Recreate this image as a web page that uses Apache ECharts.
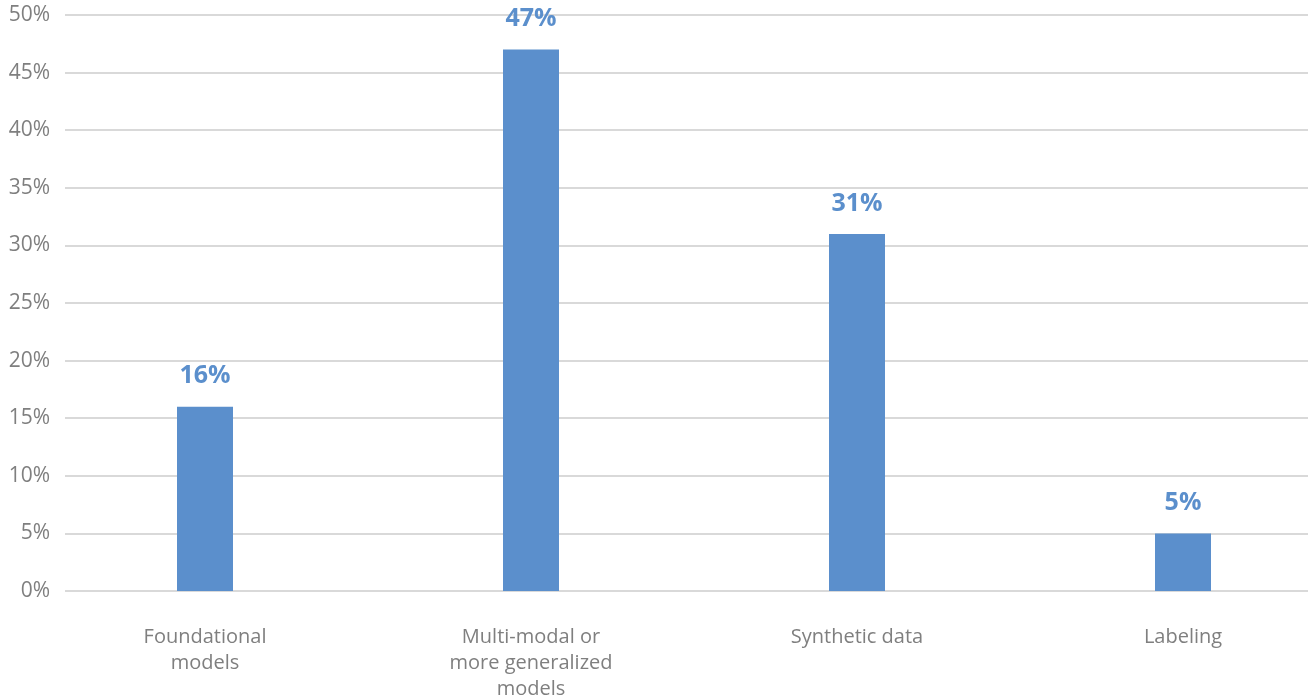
<!DOCTYPE html>
<html>
<head>
<meta charset="utf-8">
<script src="https://cdn.jsdelivr.net/npm/echarts@6/dist/echarts.min.js"></script>
<style>
  html, body { margin: 0; padding: 0; background: #ffffff; }
  #chart { width: 1308px; height: 698px; }
</style>
</head>
<body>
<div id="chart"></div>
<script>
// Share of respondents by area of focus
const categories = [
  'Foundational\nmodels',
  'Multi-modal or\nmore generalized\nmodels',
  'Synthetic data',
  'Labeling'
];
const shares = [16, 47, 31, 5];
const yTicks = { min: 0, max: 50, interval: 5 };

const font = '"Open Sans", "Noto Sans", sans-serif';
const grey = '#7f7f7f';
const blue = '#5b8fcc';

const chart = echarts.init(document.getElementById('chart'), null, { renderer: 'canvas' });

chart.setOption({
  animation: false,
  backgroundColor: '#ffffff',
  grid: [
    // value grid: tick labels and horizontal gridlines
    { left: 65, right: 0, top: 15, bottom: 107, containLabel: false, outerBoundsMode: 'none' },
    // category grid: bars sit on the category ticks
    { left: 205, right: 125, top: 15, bottom: 107, containLabel: false, outerBoundsMode: 'none' }
  ],
  xAxis: [
    { type: 'category', gridIndex: 0, data: categories, show: false },
    {
      type: 'category', gridIndex: 1, data: categories, boundaryGap: false,
      axisLine: { show: false }, axisTick: { show: false },
      splitLine: { show: false },
      axisLabel: {
        color: grey, fontFamily: font, fontSize: 20, lineHeight: 26,
        margin: 33, interval: 0, align: 'center'
      }
    }
  ],
  yAxis: [
    {
      type: 'value', gridIndex: 0,
      min: yTicks.min, max: yTicks.max, interval: yTicks.interval,
      axisLine: { show: false }, axisTick: { show: false },
      axisLabel: {
        color: grey, fontFamily: font, fontSize: 21, margin: 15,
        formatter: v => v + '%'
      },
      splitLine: { lineStyle: { color: '#d9d9d9', width: 2 } }
    },
    {
      type: 'value', gridIndex: 1,
      min: yTicks.min, max: yTicks.max, interval: yTicks.interval,
      show: false, splitLine: { show: false }
    }
  ],
  series: [
    {
      type: 'bar', xAxisIndex: 1, yAxisIndex: 1,
      data: shares,
      barWidth: 56,
      itemStyle: { color: blue },
      label: {
        show: true, position: 'top', distance: 18,
        color: blue, fontFamily: font, fontSize: 25, fontWeight: 'bold',
        formatter: p => p.value + '%'
      }
    }
  ]
});
</script>
</body>
</html>
